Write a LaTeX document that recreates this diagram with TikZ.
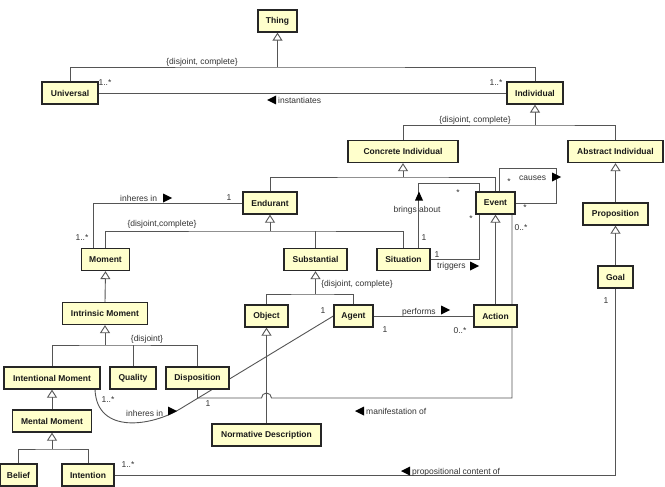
\documentclass[tikz,border=0pt]{standalone}
\usepackage{fontspec}
\setmainfont{Liberation Sans}
\usetikzlibrary{arrows.meta,backgrounds}
\definecolor{boxfill}{HTML}{FFFFCC}
\definecolor{linec}{HTML}{555555}
\definecolor{txtc}{HTML}{333333}
\begin{document}
\begin{tikzpicture}[x=1pt,y=-1pt,
  cls/.style={draw=black!85, line width=1.3pt, fill=boxfill, minimum height=22pt, inner sep=0pt,
    font=\fontsize{8.5}{10}\selectfont\bfseries, text=black!90},
  conn/.style={draw=linec, line width=0.9pt},
  gen/.style={conn, -{Triangle[open,length=8pt,width=10pt,fill=white]}},
  lbl/.style={font=\fontsize{8.5}{10}\selectfont, text=txtc, inner sep=0pt},
  rtri/.pic={\fill[black] (-4,-4.5) -- (5,0) -- (-4,4.5) -- cycle;},
  ltri/.pic={\fill[black] (4,-4.5) -- (-5,0) -- (4,4.5) -- cycle;},
  utri/.pic={\fill[black] (-4,4.5) -- (0,-4.5) -- (4,4.5) -- cycle;}
]
\useasboundingbox (0,0) rectangle (665,487);

% classes
\node[cls, minimum width=39pt] (thing) at (277.5,21) {Thing};
\node[cls, minimum width=56pt] (universal) at (70,93) {Universal};
\node[cls, minimum width=56pt] (individual) at (535,93) {Individual};
\node[cls, minimum width=110pt] (concrete) at (403,151.5) {Concrete Individual};
\node[cls, minimum width=95pt] (abstract) at (615.5,151.5) {Abstract Individual};
\node[cls, minimum width=54pt] (endurant) at (270,203) {Endurant};
\node[cls, minimum width=39pt] (event) at (495.5,203) {Event};
\node[cls, minimum width=65pt] (proposition) at (615.5,214) {Proposition};
\node[cls, minimum width=48pt] (moment) at (105.5,259.5) {Moment};
\node[cls, minimum width=63pt] (substantial) at (315.5,259.5) {Substantial};
\node[cls, minimum width=53pt] (situation) at (403.5,259.5) {Situation};
\node[cls, minimum width=35pt] (goal) at (615.5,277) {Goal};
\node[cls, minimum width=85pt] (intrinsic) at (105,313.5) {Intrinsic Moment};
\node[cls, minimum width=43pt] (object) at (266.5,316) {Object};
\node[cls, minimum width=39pt] (agent) at (353.5,316) {Agent};
\node[cls, minimum width=43pt] (action) at (495.5,316) {Action};
\node[cls, minimum width=96pt] (intentional) at (52,378) {Intentional Moment};
\node[cls, minimum width=46pt] (quality) at (133,378) {Quality};
\node[cls, minimum width=63pt] (disposition) at (197.5,378) {Disposition};
\node[cls, minimum width=79pt] (mental) at (52,421) {Mental Moment};
\node[cls, minimum width=109pt] (normdesc) at (266.5,435) {Normative Description};
\node[cls, minimum width=37pt] (belief) at (18.5,475) {Belief};
\node[cls, minimum width=52pt] (intention) at (88,475) {Intention};

% junctions
\coordinate (j1) at (277.5,67);
\coordinate (j2) at (535,125);
\coordinate (j3) at (403,177);
\coordinate (j4) at (270,231);
\coordinate (j5) at (315.5,294);
\coordinate (j6) at (105,345);
\coordinate (j7) at (52,449);
\coordinate (c1) at (556,168);
\coordinate (m1) at (261.5,398);
\coordinate (ih) at (180,409);

\begin{scope}[on background layer]
\fill[white] (0,0) rectangle (665,487);
% generalization trees
\draw[gen] (j1) -- (thing.south);
\draw[conn] (universal.north) |- (j1) -| (individual.north);
\draw[gen] (j2) -- (individual.south);
\draw[conn] (concrete.north) |- (j2) -| (abstract.north);
\draw[gen] (j3) -- (concrete.south);
\draw[conn] (endurant.north) |- (j3) -| (event.north);
\draw[gen] (j4) -- (endurant.south);
\draw[conn] (moment.north) |- (j4) -| (situation.north);
\draw[conn] (substantial.north) -- (substantial.north |- j4);
\draw[gen] (j5) -- (substantial.south);
\draw[conn] (object.north) |- (j5) -| (agent.north);
\draw[gen] (j6) -- (intrinsic.south);
\draw[conn] (intentional.north) |- (j6) -| (disposition.north);
\draw[conn] (quality.north) -- (quality.north |- j6);
\draw[gen] (j7) -- (mental.south);
\draw[conn] (belief.north) |- (j7) -| (intention.north);
\draw[gen] (intrinsic.north) -- (moment.south);
\draw[gen] (mental.north) -- (intentional.south);
\draw[gen] (action.north) -- (event.south);
\draw[gen] (proposition.north) -- (abstract.south);
\draw[gen] (goal.north) -- (proposition.south);
\draw[gen] (normdesc.north) -- (object.south);
% associations
\draw[conn] (universal.east) -- (individual.west);
\draw[conn] (endurant.west) -| ([xshift=-12.5pt]moment.north);
\draw[conn] ([xshift=14.5pt]situation.north) |- ([xshift=-16.5pt,yshift=8pt]event.north) -- ([xshift=-16.5pt]event.north);
\draw[conn] (situation.east) -| ([xshift=-16.5pt]event.south);
\draw[conn] ([xshift=4pt]event.north) |- (c1) |- (event.east);
\draw[conn] (agent.east) -- (action.west);
\draw[conn] (intention.east) -| (goal.south);
\draw[conn] (disposition.south) |- (m1) arc[start angle=180, end angle=360, radius=5] -| ([xshift=16.5pt]event.south);
\draw[conn] ([xshift=43pt]intentional.south) .. controls (97,435) and (152,426) .. (ih) -- (agent.west);
\end{scope}

% constraint labels
\node[lbl] at (202,62) {\{disjoint, complete\}};
\node[lbl] at (475,120) {\{disjoint, complete\}};
\node[lbl] at (162,224) {\{disjoint,complete\}};
\node[lbl] at (357,284) {\{disjoint, complete\}};
\node[lbl] at (147,339) {\{disjoint\}};

% association names
\pic at (272,100) {ltri};
\node[lbl, anchor=west] at (278,100) {instantiates};
\node[lbl, anchor=west] at (120,198) {inheres in};
\pic at (167,198) {rtri};
\node[lbl] at (417,210) {brings about};
\pic at (419,196) {utri};
\node[lbl, anchor=west] at (437,266) {triggers};
\pic at (474,266) {rtri};
\node[lbl, anchor=west] at (519,178) {causes};
\pic at (556,177) {rtri};
\node[lbl, anchor=west] at (402,312) {performs};
\pic at (445,310) {rtri};
\pic at (360,411) {ltri};
\node[lbl, anchor=west] at (366,411) {manifestation of};
\pic at (406,471) {ltri};
\node[lbl, anchor=west] at (412,472) {propositional content of};
\node[lbl, anchor=west] at (126,413) {inheres in};
\pic at (172,411) {rtri};

% multiplicities
\node[lbl] at (105,83) {1..*};
\node[lbl] at (496,83) {1..*};
\node[lbl] at (229,198) {1};
\node[lbl] at (82,238) {1..*};
\node[lbl] at (458,193) {*};
\node[lbl] at (424,238) {1};
\node[lbl] at (437,255) {1};
\node[lbl] at (471,219) {*};
\node[lbl] at (509,182) {*};
\node[lbl] at (525,208) {*};
\node[lbl] at (385,330) {1};
\node[lbl] at (460,331) {0..*};
\node[lbl] at (208,404) {1};
\node[lbl] at (521,228) {0..*};
\node[lbl] at (108,400) {1..*};
\node[lbl] at (323,311) {1};
\node[lbl] at (128,465) {1..*};
\node[lbl] at (606,301) {1};
\end{tikzpicture}
\end{document}
